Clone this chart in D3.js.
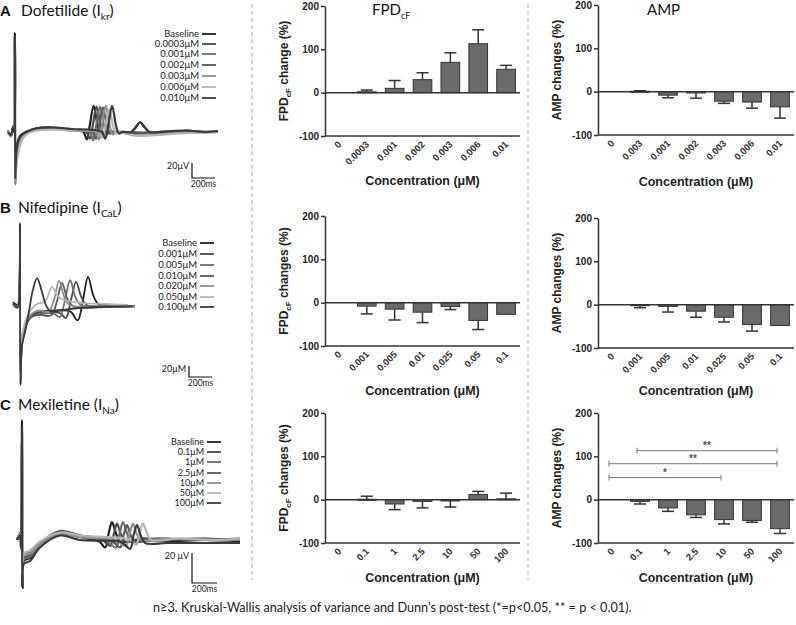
<!DOCTYPE html>
<html><head><meta charset="utf-8">
<script src="https://cdn.jsdelivr.net/npm/d3@7"></script>
<style>body{margin:0;background:#fff}</style>
</head><body>
<svg id="c" width="796" height="625" xmlns="http://www.w3.org/2000/svg"></svg>
<script>
// ---------------- DATA ----------------
const yTicks = [-100, 0, 100, 200];

const catsA_FPD = ["0","0.0003","0.001","0.002","0.003","0.006","0.01"];
const catsA_AMP = ["0","0.003","0.001","0.002","0.003","0.006","0.01"];
const fpdA_mean = [0, 2, 10, 30, 70, 113, 54];
const fpdA_sem  = [0, 4, 18, 16, 22, 32, 9];
const ampA_mean = [0, 1, -8, -3, -22, -24, -35];
const ampA_sem  = [0, 1, 6, 12, 5, 14, 26];

const catsB = ["0","0.001","0.005","0.01","0.025","0.05","0.1"];
const fpdB_mean = [0, -8, -15, -22, -9, -41, -27];
const fpdB_sem  = [0, 18, 25, 24, 7, 21, 0];
const ampB_mean = [0, -1, -4, -15, -29, -46, -48];
const ampB_sem  = [0, 6, 13, 14, 11, 15, 0];

const catsC = ["0","0.1","1","2.5","10","50","100"];
const fpdC_mean = [0, 1, -10, -4, -3, 12, 2];
const fpdC_sem  = [0, 7, 13, 15, 14, 7, 13];
const ampC_mean = [0, -4, -19, -35, -46, -48, -67];
const ampC_sem  = [0, 6, 8, 6, 10, 4, 11];
const sigC = [{a:1, b:6, y:113, t:"**"}, {a:0, b:6, y:83, t:"**"}, {a:0, b:4, y:51, t:"*"}];

const legA = ["Baseline","0.0003μM","0.001μM","0.002μM","0.003μM","0.006μM","0.010μM"];
const legB = ["Baseline","0.001μM","0.005μM","0.010μM","0.020μM","0.050μM","0.100μM"];
const legC = ["Baseline","0.1μM","1μM","2.5μM","10μM","50μM","100μM"];

// field-potential traces, [time ms, amplitude μV]
const tracesA = [
 [[0,2],[25,-6],[45,8],[55,0],[60,132],[63,-64],[70,-35],[85,-15],[110,-6],[160,0],[250,4],[400,5],[550,3],[655,0],[685,-10],[710,8],[745,35],[780,8],[805,-3],[835,0],[1070,0],[1110,6],[1148,13],[1190,6],[1230,0],[1400,-2],[1550,2],[1700,0],[1826,1]],
 [[0,0],[25,-4],[45,6],[55,0],[60,120],[63,-60],[70,-32],[85,-14],[110,-5],[160,0],[250,5],[400,4],[550,3],[680,0],[710,-9],[735,7],[770,34],[805,8],[830,-2],[860,0],[1050,0],[1200,-1],[1400,1],[1600,0],[1826,0]],
 [[0,1],[25,-5],[45,7],[55,0],[60,125],[64,-70],[72,-40],[90,-18],[115,-6],[160,0],[250,4],[400,5],[550,2],[710,0],[740,-11],[765,7],[800,34],[835,8],[860,-3],[890,0],[1100,-3],[1300,-2],[1500,0],[1826,0]],
 [[0,0],[25,-4],[45,5],[55,0],[60,118],[63,-58],[70,-30],[85,-12],[110,-4],[160,0],[250,5],[400,6],[550,3],[735,0],[765,-9],[790,7],[825,33],[860,8],[885,-2],[915,0],[1100,-2],[1300,0],[1500,1],[1826,0]],
 [[0,2],[25,-6],[45,6],[55,0],[60,122],[64,-68],[72,-38],[90,-18],[115,-7],[160,-1],[250,3],[400,4],[550,2],[760,0],[790,-10],[815,7],[850,35],[885,8],[910,-3],[940,0],[1100,-4],[1300,-3],[1500,-1],[1826,0]],
 [[0,1],[25,-5],[45,5],[55,0],[60,110],[64,-64],[74,-42],[95,-24],[125,-10],[170,-2],[250,2],[400,3],[550,2],[790,0],[820,-8],[845,6],[880,30],[915,7],[940,-2],[970,0],[1100,-5],[1300,-4],[1500,-2],[1826,0]],
 [[0,0],[25,-4],[45,6],[55,0],[60,128],[63,-62],[70,-33],[85,-14],[110,-5],[160,0],[250,5],[400,6],[550,4],[815,0],[845,-9],[870,7],[905,35],[940,8],[965,-2],[995,0],[1070,0],[1110,6],[1148,13],[1190,6],[1230,0],[1400,1],[1550,2],[1700,0],[1826,1]]
];
const tracesB = [
 [[0,5],[40,0],[55,30],[61,149],[65,-145],[78,-60],[104,-40],[150,-20],[250,-12],[400,-10],[500,-12],[562,-28],[607,8],[652,51],[697,18],[742,2],[850,0],[960,0]],
 [[0,0],[40,-5],[55,20],[61,120],[66,-120],[80,-70],[110,-40],[160,-20],[300,-12],[410,-15],[458,-24],[503,8],[548,42],[593,15],[640,0],[800,-3],[1060,-2]],
 [[0,2],[40,-3],[55,25],[61,110],[66,-110],[80,-65],[110,-38],[160,-22],[300,-15],[360,-16],[406,-22],[451,8],[496,45],[541,15],[590,0],[800,-2],[1000,-2]],
 [[0,0],[40,-4],[55,18],[61,100],[66,-100],[82,-60],[115,-35],[170,-20],[250,-18],[290,-20],[336,-18],[381,6],[426,40],[471,12],[520,-2],[800,-4],[1060,-3]],
 [[0,1],[40,-2],[55,15],[61,95],[66,-95],[82,-55],[115,-30],[170,-15],[240,-10],[270,-12],[310,-12],[355,8],[400,44],[445,15],[490,0],[800,-2],[1060,-2]],
 [[0,0],[40,-2],[55,12],[61,90],[66,-90],[82,-50],[115,-25],[170,-5],[220,3],[260,4],[295,12],[339,33],[383,18],[430,10],[600,4],[800,2],[1000,0]],
 [[0,3],[40,-3],[55,20],[61,140],[65,-140],[78,-73],[104,-50],[140,-10],[170,25],[209,49],[250,25],[290,-2],[330,-12],[400,-10],[600,-5],[800,-3],[1040,-2]]
];
const tracesC = [
 [[0,0],[25,4],[33,-5],[40,80],[44,-32],[55,-14],[104,-12],[184,-3],[344,5],[504,2],[620,0],[660,-1],[705,-5],[735,5],[760,12],[790,5],[825,-1],[1000,0],[1200,-1],[1500,0],[1784,-1]],
 [[0,1],[25,3],[33,-4],[40,66],[44,-30],[55,-12],[104,-10],[184,-2],[344,6],[504,3],[660,1],[700,-1],[745,-4],[775,4],[800,11],[830,4],[865,-1],[1000,1],[1200,0],[1500,1],[1784,0]],
 [[0,0],[25,5],[33,-6],[40,60],[44,-28],[55,-13],[104,-11],[184,-4],[344,4],[504,2],[700,0],[750,-3],[793,-5],[823,5],[848,12],[878,5],[913,-1],[1100,0],[1400,1],[1784,0]],
 [[0,1],[25,3],[33,-3],[40,55],[44,-26],[55,-10],[104,-8],[184,-2],[344,5],[504,3],[740,0],[780,-2],[825,-5],[855,4],[880,10],[910,3],[945,-1],[1100,1],[1400,0],[1784,1]],
 [[0,0],[25,4],[33,-4],[40,52],[44,-24],[55,-10],[104,-9],[184,-3],[344,4],[504,2],[790,0],[830,-2],[873,-4],[903,5],[928,11],[958,4],[993,0],[1200,1],[1500,0],[1784,0]],
 [[0,1],[25,3],[33,-4],[40,50],[44,-22],[55,-9],[104,-7],[184,-1],[344,5],[504,3],[870,1],[910,0],[953,-3],[983,5],[1008,11],[1038,5],[1073,0],[1300,1],[1600,0],[1784,1]],
 [[0,0],[25,3],[33,-5],[40,76],[44,-32],[55,-16],[104,-14],[184,-5],[344,3],[504,0],[820,-1],[860,-3],[905,-6],[935,4],[960,10],[990,3],[1025,-2],[1200,-2],[1500,-2],[1784,-2]]
];
const traceColors = ["#202020","#4a4a4a","#6e6e6e","#575757","#8e8e8e","#b6b6b6","#3a3a3a"];

// ---------------- DRAW ----------------
const svg = d3.select("#c");
const dark = "#333";
const axisFont = "'Liberation Sans', Arial, sans-serif";
const textFont = "Lato, 'Open Sans', sans-serif";

[252, 528].forEach(xp => svg.append("line").attr("x1", xp).attr("x2", xp).attr("y1", 4).attr("y2", 580)
  .attr("stroke", "#bbb").attr("stroke-width", 1.2).attr("stroke-dasharray", "4,3"));

function heading(y, letter, name, ion, sub, nameX) {
  const t = svg.append("text").attr("x", 0).attr("y", y).attr("font-family", textFont).attr("font-size", 15.5).attr("fill", "#111");
  t.append("tspan").attr("font-weight", "bold").attr("font-family", axisFont).attr("font-size", 15).text(letter);
  t.append("tspan").attr("x", nameX).text(name + "  (" + ion);
  t.append("tspan").attr("font-size", 10).attr("dy", 4).text(sub);
  t.append("tspan").attr("dy", -4).text(")");
}
heading(16, "A", "Dofetilide ", "I", "kr", 21);
heading(213, "B", "Nifedipine", "I", "CaL", 18);
heading(410, "C", "Mexiletine", "I", "Na", 18);

const ct = svg.append("text").attr("x", 372).attr("y", 15).attr("font-family", textFont).attr("font-size", 15).attr("fill", "#111");
ct.append("tspan").text("FPD");
ct.append("tspan").attr("font-size", 9).attr("dy", 4).text("cF");
svg.append("text").attr("x", 647).attr("y", 15).attr("font-family", textFont).attr("font-size", 15).attr("fill", "#111").text("AMP");

function barChart(o) {
  const y = d3.scaleLinear().domain([-100, 200]).range([o.top + 130, o.top]);
  const x = d3.scaleBand().domain(d3.range(o.cats.length)).range([o.x0, o.x1]);
  const bw = x.bandwidth() * 0.67;
  const g = svg.append("g");
  o.mean.forEach((m, i) => {
    if (m === 0 && o.sem[i] === 0) return;
    const cx = x(i) + x.bandwidth() / 2;
    g.append("rect").attr("x", cx - bw / 2).attr("width", bw)
      .attr("y", y(Math.max(m, 0))).attr("height", Math.max(1, Math.abs(y(m) - y(0))))
      .attr("fill", "#6a6a6a").attr("stroke", dark).attr("stroke-width", 1);
    if (o.sem[i] > 0) {
      const s = m >= 0 ? 1 : -1;
      const ye = y(m + s * o.sem[i]);
      g.append("line").attr("x1", cx).attr("x2", cx).attr("y1", y(m)).attr("y2", ye).attr("stroke", dark).attr("stroke-width", 1.5);
      g.append("line").attr("x1", cx - 6).attr("x2", cx + 6).attr("y1", ye).attr("y2", ye).attr("stroke", dark).attr("stroke-width", 1.5);
    }
  });
  g.append("line").attr("x1", o.x0).attr("x2", o.x1).attr("y1", y(0)).attr("y2", y(0)).attr("stroke", dark).attr("stroke-width", 1.5);
  g.append("line").attr("x1", o.x0).attr("x2", o.x1).attr("y1", y(-100)).attr("y2", y(-100)).attr("stroke", dark).attr("stroke-width", 1.5);
  const ax = g.append("g").attr("transform", `translate(${o.x0},0)`)
    .call(d3.axisLeft(y).tickValues(yTicks).tickSize(4).tickSizeOuter(0).tickFormat(d => String(d)));
  ax.select(".domain").attr("stroke", dark).attr("stroke-width", 1.5);
  ax.selectAll(".tick line").attr("stroke", dark).attr("stroke-width", 1.5);
  ax.selectAll(".tick text").attr("font-family", axisFont).attr("font-weight", "bold").attr("font-size", 10).attr("fill", "#222").attr("x", -6);
  o.cats.forEach((c, i) => {
    const cx = x(i) + x.bandwidth() / 2 + 3;
    g.append("text").attr("transform", `translate(${cx},${y(-100) + 9}) rotate(-45)`)
      .attr("text-anchor", "end").attr("font-family", axisFont).attr("font-weight", "bold").attr("font-size", 9.5)
      .attr("fill", "#333").text(c);
  });
  g.append("text").attr("x", (o.x0 + o.x1) / 2).attr("y", o.top + o.xtOff).attr("text-anchor", "middle")
    .attr("font-family", axisFont).attr("font-weight", "bold").attr("font-size", 12.5).attr("fill", "#222")
    .text("Concentration (μM)");
  const yt = g.append("text").attr("transform", `translate(${o.x0 - 37},${y(50)}) rotate(-90)`).attr("text-anchor", "middle")
    .attr("font-family", axisFont).attr("font-weight", "bold").attr("font-size", 12).attr("fill", "#222");
  o.ylab(yt);
  (o.sig || []).forEach(s => {
    const xa = x(s.a) + x.bandwidth() / 2 - 3, xb = x(s.b) + x.bandwidth() / 2 - 3, yy = y(s.y);
    g.append("line").attr("x1", xa).attr("x2", xb).attr("y1", yy).attr("y2", yy).attr("stroke", "#777").attr("stroke-width", 1);
    [xa, xb].forEach(xx => g.append("line").attr("x1", xx).attr("x2", xx).attr("y1", yy - 3).attr("y2", yy + 3).attr("stroke", "#777").attr("stroke-width", 1));
    g.append("text").attr("x", (xa + xb) / 2).attr("y", yy - 2).attr("text-anchor", "middle")
      .attr("font-family", axisFont).attr("font-weight", "bold").attr("font-size", 10).attr("fill", "#555").text(s.t);
  });
}
const fpdLab = (suffix) => t => { t.append("tspan").text("FPD"); t.append("tspan").attr("font-size", 8).attr("dy", 3).text("cF"); t.append("tspan").attr("dy", -3).text(suffix); };
const ampLab = t => t.text("AMP changes (%)");

const FX = [325, 520], AX = [598, 794];
barChart({x0: FX[0], x1: FX[1], top: 6, cats: catsA_FPD, mean: fpdA_mean, sem: fpdA_sem, xtOff: 179, ylab: fpdLab(" change (%)")});
barChart({x0: AX[0], x1: AX[1], top: 5, cats: catsA_AMP, mean: ampA_mean, sem: ampA_sem, xtOff: 181, ylab: ampLab});
barChart({x0: FX[0], x1: FX[1], top: 216, cats: catsB, mean: fpdB_mean, sem: fpdB_sem, xtOff: 179, ylab: fpdLab(" changes (%)")});
barChart({x0: AX[0], x1: AX[1], top: 218, cats: catsB, mean: ampB_mean, sem: ampB_sem, xtOff: 177, ylab: ampLab});
barChart({x0: FX[0], x1: FX[1], top: 413, cats: catsC, mean: fpdC_mean, sem: fpdC_sem, xtOff: 169, ylab: fpdLab(" changes (%)")});
barChart({x0: AX[0], x1: AX[1], top: 413, cats: catsC, mean: ampC_mean, sem: ampC_sem, xtOff: 169, ylab: ampLab, sig: sigC});

function tracePanel(o) {
  const x = d3.scaleLinear().domain([0, o.tmax]).range(o.xr);
  const y = d3.scaleLinear().domain([0, 20]).range([o.base, o.base - o.px20]);
  const line = d3.line().x(d => x(d[0])).y(d => y(d[1])).curve(d3.curveCatmullRom.alpha(0.5));
  const g = svg.append("g");
  o.traces.forEach((tr, i) => g.append("path").attr("d", line(tr)).attr("fill", "none")
    .attr("stroke", traceColors[i]).attr("stroke-width", o.sw).attr("stroke-linejoin", "round"));
  o.leg.forEach((l, i) => {
    const yy = o.legY[i];
    g.append("text").attr("x", o.legX).attr("y", yy + 3).attr("text-anchor", "end").attr("font-family", textFont)
      .attr("font-size", o.legFs).attr("fill", "#222").text(l);
    g.append("line").attr("x1", o.legX + 3).attr("x2", o.legX + 17).attr("y1", yy).attr("y2", yy)
      .attr("stroke", traceColors[i]).attr("stroke-width", 1.8);
  });
  const [sx, sy] = o.sb;
  const h = y(0) - y(20), w = x(200) - x(0);
  g.append("path").attr("d", `M${sx},${sy - h}V${sy}H${sx + w}`).attr("fill", "none").attr("stroke", "#111").attr("stroke-width", 1.2);
  g.append("text").attr("x", sx - 3).attr("y", sy - h + 6).attr("text-anchor", "end").attr("font-family", textFont)
    .attr("font-size", 9).attr("fill", "#222").text(o.unit);
  g.append("text").attr("x", sx + w / 2).attr("y", sy + 9).attr("text-anchor", "middle").attr("font-family", textFont)
    .attr("font-size", 8.5).attr("fill", "#222").text("200ms");
}
tracePanel({traces: tracesA, tmax: 1826, xr: [8, 218], base: 132, px20: 15, sw: 2.2, leg: legA, legX: 199, legFs: 9.5,
  legY: [34, 44, 54, 65, 76, 87, 98], sb: [192, 178], unit: "20μV"});
tracePanel({traces: tracesB, tmax: 1060, xr: [13, 135], base: 305, px20: 11, sw: 1.8, leg: legB, legX: 197, legFs: 9.5,
  legY: [243, 254, 265, 276, 286, 297, 307], sb: [189, 377], unit: "20μM"});
tracePanel({traces: tracesC, tmax: 1784, xr: [17, 240], base: 540, px20: 30, sw: 2.2, leg: legC, legX: 204, legFs: 9,
  legY: [442, 452, 462, 473, 483, 493, 503], sb: [192, 583], unit: "20 μV"});

svg.append("text").attr("x", 153).attr("y", 612).attr("font-family", textFont).attr("font-size", 12.7).attr("fill", "#222")
  .text("n≥3. Kruskal-Wallis analysis of variance and Dunn’s post-test (*=p<0.05, ** = p < 0.01).");
</script>
</body></html>
